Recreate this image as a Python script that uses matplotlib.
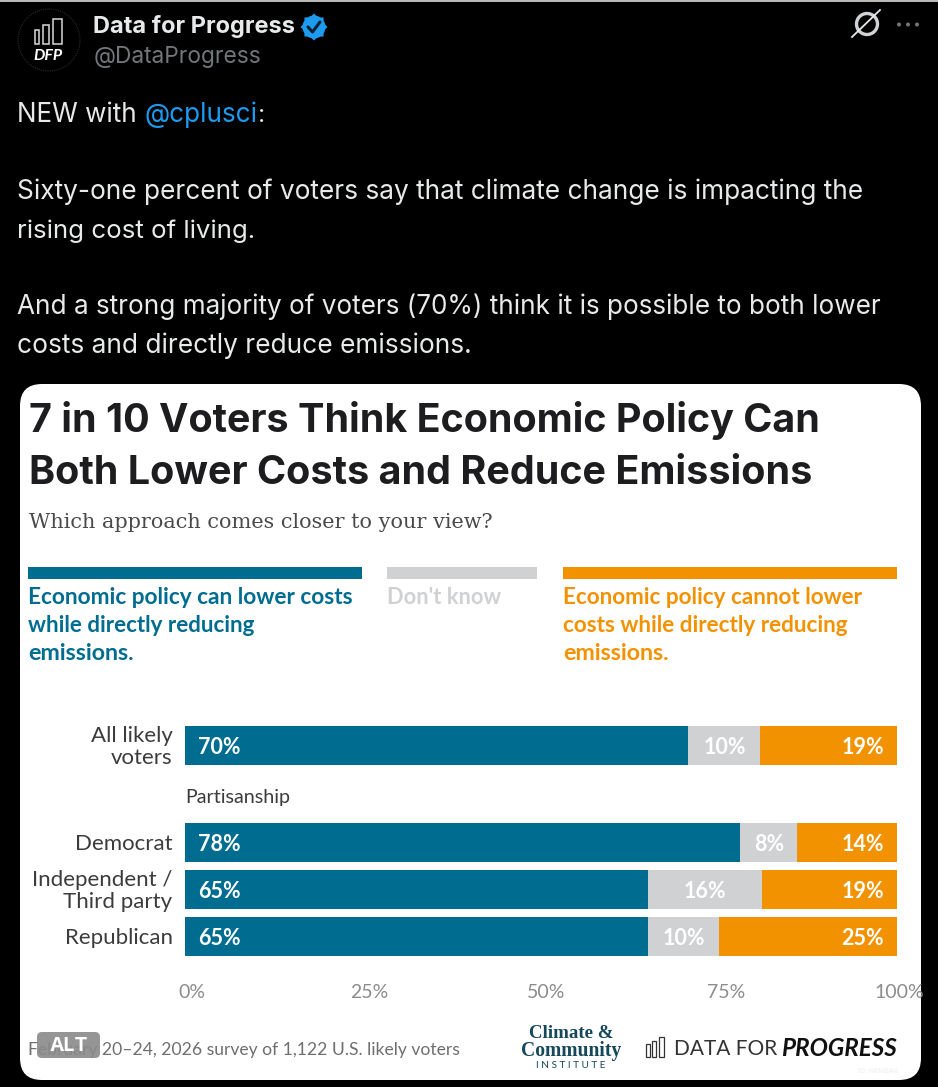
import matplotlib
matplotlib.use("Agg")
import matplotlib.pyplot as plt
from matplotlib.patches import FancyBboxPatch, Rectangle, Circle, Polygon
from matplotlib.transforms import ScaledTranslation
import numpy as np

W, H = 938, 1087
UI_FONT = "Inter"
CHART_FONT = "Inter"
LABEL_FONT = "Lato"

# survey results
groups = ["All likely\nvoters", "Democrat", "Independent /\nThird party", "Republican"]
can_lower = [70, 78, 65, 65]
dont_know = [10, 8, 16, 10]
cannot_lower = [19, 14, 19, 25]
tick_values = [0, 25, 50, 75, 100]
tick_labels = ["0%", "25%", "50%", "75%", "100%"]

BLUE = "#006d90"
GRAY = "#cfd1d3"
ORANGE = "#f39200"

fig = plt.figure(figsize=(W / 100, H / 100), dpi=100, facecolor="black")
canvas_ax = fig.add_axes([0, 0, 1, 1])
canvas_ax.set_xlim(0, W)
canvas_ax.set_ylim(H, 0)
canvas_ax.axis("off")
renderer = fig.canvas.get_renderer()


def label(x, y, s, size=16, color="black", weight="normal", family=CHART_FONT,
          ha="left", width=None, **kw):
    """Write text at pixel coordinates, optionally scaled to a pixel width."""
    t = canvas_ax.text(x, y, s, fontsize=size, color=color, fontweight=weight,
                       family=family, ha=ha, va="center", **kw)
    if width:
        t.set_fontsize(size * width / t.get_window_extent(renderer).width)
    return t


# tweet header
canvas_ax.add_patch(Rectangle((0, 0), W, 1.5, color="#b8b8b8", lw=0))
canvas_ax.add_patch(Circle((49, 40), 31, fc="black", ec="#2b2b2b", lw=0.8, ls=(0, (1, 1))))
for bx, by, bw, bh in [(34.5, 30, 4.5, 14), (43, 25, 6, 19), (53, 19, 8.5, 25)]:
    canvas_ax.add_patch(Rectangle((bx, by), bw, bh, fc="none", ec="#d8d8d8", lw=1.1))
label(48, 56, "DFP", size=10, color="white", weight="bold", family=LABEL_FONT, style="italic", ha="center", width=29)

label(93, 26, "Data for Progress", size=17, color="#e7e9ea", weight="bold", family=UI_FONT, width=202)
label(94, 57, "@DataProgress", size=17, color="#71767b", family=UI_FONT, width=168)

# verified badge
angles = np.linspace(0, 2 * np.pi, 33)[:-1]
radii = np.where(np.arange(32) % 4 == 0, 13.5, 11.5)
canvas_ax.add_patch(Polygon(np.c_[314 + radii * np.cos(angles), 27 + radii * np.sin(angles)],
                            closed=True, fc="#1d9bf0", ec="none"))
canvas_ax.plot([308, 312.5, 320], [27, 32, 22], color="#0a2233", lw=2.2, solid_capstyle="round")

# menu glyphs
canvas_ax.add_patch(Circle((867, 24), 10.5, fc="none", ec="#d0d3d5", lw=2.4))
canvas_ax.plot([852, 880], [37, 10], color="#e7e9ea", lw=1.3)
for dx in (899, 908, 917):
    canvas_ax.add_patch(Circle((dx, 24.5), 2, fc="#71767b", ec="none"))

# tweet body
TWEET = "#e7e9ea"
label(17, 115, "NEW with", size=18, color=TWEET, family=UI_FONT, width=120)
label(145, 115, "@cplusci", size=18, color="#1d9bf0", family=UI_FONT, width=113)
label(258, 115, ":", size=18, color=TWEET, family=UI_FONT)
label(17, 192, "Sixty-one percent of voters say that climate change is impacting the",
      size=18, color=TWEET, family=UI_FONT, width=845)
label(17, 231, "rising cost of living.", size=18, color=TWEET, family=UI_FONT, width=238)
label(17, 307, "And a strong majority of voters (70%) think it is possible to both lower",
      size=18, color=TWEET, family=UI_FONT, width=862)
label(17, 346, "costs and directly reduce emissions.", size=18, color=TWEET, family=UI_FONT, width=454)

# white card
canvas_ax.add_patch(FancyBboxPatch((20, 384), 901, 696, boxstyle="round,pad=0,rounding_size=22",
                                   fc="white", ec="none"))

# headline and question
label(29, 421, "7 in 10 Voters Think Economic Policy Can", size=30, color="#1d1d1f",
      weight="bold", width=791)
label(29, 473, "Both Lower Costs and Reduce Emissions", size=30, color="#1d1d1f",
      weight="bold", width=783)
label(29, 523, "Which approach comes closer to your view?", size=16, color="#4a4a4a",
      family="DejaVu Serif", width=463)

# legend
for x0, x1, c in [(28, 362, BLUE), (387, 537, GRAY), (563, 897, ORANGE)]:
    canvas_ax.add_patch(Rectangle((x0, 567), x1 - x0, 12, fc=c, ec="none"))
label(28, 597, "Economic policy can lower costs", size=16, color=BLUE, weight="bold", family=LABEL_FONT, width=326)
label(28, 625, "while directly reducing", size=16, color=BLUE, weight="bold", family=LABEL_FONT, width=228)
label(28, 653, "emissions.", size=16, color=BLUE, weight="bold", family=LABEL_FONT, width=107)
label(387, 597, "Don't know", size=16, color=GRAY, weight="bold", family=LABEL_FONT, width=114)
label(563, 597, "Economic policy cannot lower", size=16, color=ORANGE, weight="bold", family=LABEL_FONT, width=300)
label(563, 625, "costs while directly reducing", size=16, color=ORANGE, weight="bold", family=LABEL_FONT, width=287)
label(563, 653, "emissions.", size=16, color=ORANGE, weight="bold", family=LABEL_FONT, width=107)

# stacked bars, each row scaled to the full axis
ax_left, ax_right, ax_top, ax_bottom = 185, 897, 726, 956
bar_ax = fig.add_axes([ax_left / W, 1 - ax_bottom / H, (ax_right - ax_left) / W, (ax_bottom - ax_top) / H])
bar_ax.patch.set_alpha(0)
rows = np.array([0, 2.06, 3.06, 4.06])
bar_h = 0.83
bar_ax.set_xlim(0, 100)
bar_ax.set_ylim(rows[-1] + bar_h / 2, rows[0] - bar_h / 2)

a, b, c = map(np.array, (can_lower, dont_know, cannot_lower))
scale = 100 / (a + b + c)
left = np.zeros(len(groups))
for vals, color in [(a, BLUE), (b, GRAY), (c, ORANGE)]:
    bar_ax.barh(rows, vals * scale, left=left, height=bar_h, color=color, lw=0)
    left = left + vals * scale

value_style = dict(color="white", fontsize=15.5, fontweight="bold", family=LABEL_FONT, va="center")
for y, va, vb, vc, sc in zip(rows + 0.035, a, b, c, scale):
    bar_ax.text(1.8, y, f"{va}%", ha="left", **value_style)
    bar_ax.text((va + vb / 2) * sc, y, f"{vb}%", ha="center", **value_style)
    bar_ax.text(98.2, y, f"{vc}%", ha="right", **value_style)

bar_ax.set_yticks(rows)
bar_ax.set_yticklabels(groups, fontsize=16, family=LABEL_FONT, color="#3c3c3c", linespacing=1.1)
bar_ax.set_xticks(tick_values)
bar_ax.set_xticklabels(tick_labels, fontsize=14, family=LABEL_FONT, color="#8c8c8c")
bar_ax.tick_params(length=0, axis="y", pad=9)
bar_ax.tick_params(length=0, axis="x", pad=20)
# axis labels sit slightly to the right of their ticks
for lab, nudge in zip(bar_ax.get_xticklabels(), [7, 6, 5, 7, 2]):
    lab.set_transform(lab.get_transform() + ScaledTranslation(nudge / 100, 0, fig.dpi_scale_trans))
# two-line row names ride a little higher
for lab in bar_ax.get_yticklabels():
    if "\n" in lab.get_text():
        lab.set_transform(lab.get_transform() + ScaledTranslation(0, 1.5 / 100, fig.dpi_scale_trans))
for spine in bar_ax.spines.values():
    spine.set_visible(False)
label(185, 798, "Partisanship", size=13.5, color="#3c3c3c", family=LABEL_FONT, width=106)

# footer
label(28, 1050, "February 20–24, 2026 survey of 1,122 U.S. likely voters", size=13, color="#6f6f6f", family=LABEL_FONT, width=430)
label(571, 1034, "Climate &", size=13, color="#14485a", weight="bold", family="Liberation Serif", ha="center", width=84)
label(571, 1051, "Community", size=13, color="#14485a", weight="bold", family="Liberation Serif", ha="center", width=100)
label(571, 1066, "I N S T I T U T E", size=6, color="#14485a", family=LABEL_FONT, ha="center", width=70)
for bx, by, bw, bh in [(646, 1044, 4, 13), (652, 1041, 4, 16), (659, 1037, 5, 20)]:
    canvas_ax.add_patch(Rectangle((bx, by), bw, bh, fc="none", ec="#333333", lw=0.9))
label(674, 1049, "DATA FOR", size=19, color="#333333", family=LABEL_FONT, width=103)
label(781, 1048, "PROGRESS", size=19, color="#111111", weight="bold", style="italic", family=LABEL_FONT, width=116)
label(898, 1071, "ID: NEMBA8", size=5, color="#eeeeee", ha="right")

# image description badge
canvas_ax.add_patch(FancyBboxPatch((37, 1032), 63, 26, boxstyle="round,pad=0,rounding_size=5",
                                   fc="#8a8a8a", ec="none", alpha=0.9, zorder=5))
label(68.5, 1046, "ALT", size=14, color="white", weight="bold", family=UI_FONT, ha="center", zorder=6)

fig.savefig("out.png", dpi=100, facecolor="black")
